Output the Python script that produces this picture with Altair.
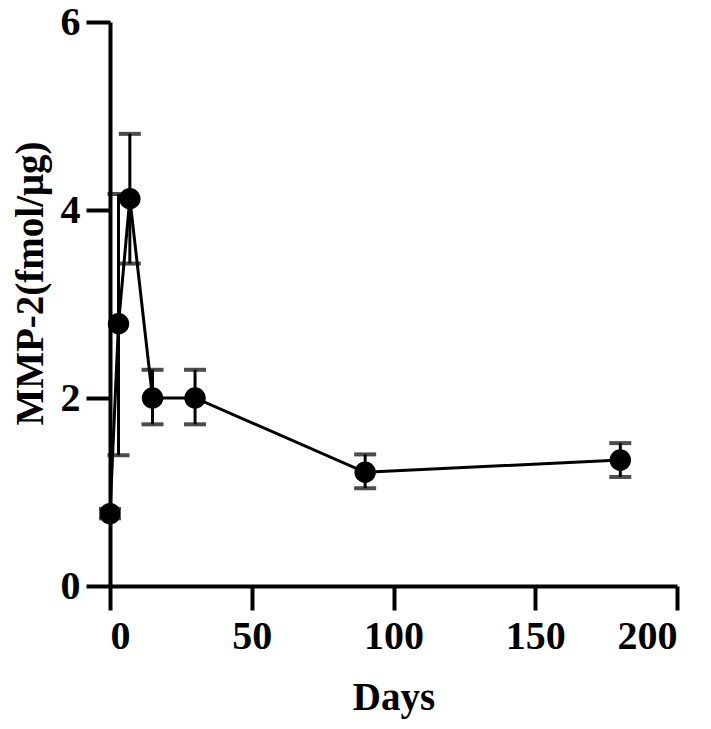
import altair as alt
import pandas as pd

days = [0, 3, 7, 15, 30, 90, 180]
mean = [0.77, 2.79, 4.12, 2.0, 2.0, 1.21, 1.34]
lower = [0.72, 1.39, 3.43, 1.72, 1.72, 1.04, 1.16]
upper = [0.82, 4.17, 4.81, 2.30, 2.30, 1.40, 1.52]

x_ticks = [0, 50, 100, 150, 200]
y_ticks = [0, 2, 4, 6]

df = pd.DataFrame({"days": days, "mean": mean, "lower": lower, "upper": upper})

FONT = "Liberation Serif"

xs = alt.Scale(domain=[0, 200], nice=False)
ys = alt.Scale(domain=[0, 6], nice=False)

xaxis = alt.Axis(values=x_ticks, title="Days", titleBaseline="alphabetic", titleY=123,
                 labelPadding=6, format="d")
yaxis = alt.Axis(values=y_ticks, title="MMP-2(fmol/μg)", titleX=-60, titleY=261,
                 labelPadding=6, format="d")

base = alt.Chart(df)

stems = base.mark_rule(color="black", strokeWidth=3).encode(
    x=alt.X("days:Q", scale=xs, axis=xaxis),
    y=alt.Y("lower:Q", scale=ys, axis=yaxis),
    y2="upper:Q",
)
caps_hi = base.mark_tick(color="black", orient="horizontal", size=22, thickness=4).encode(
    x=alt.X("days:Q", scale=xs), y=alt.Y("upper:Q", scale=ys)
)
caps_lo = base.mark_tick(color="black", orient="horizontal", size=22, thickness=4).encode(
    x=alt.X("days:Q", scale=xs), y=alt.Y("lower:Q", scale=ys)
)
line = base.mark_line(color="black", strokeWidth=3).encode(
    x=alt.X("days:Q", scale=xs), y=alt.Y("mean:Q", scale=ys)
)
pts = base.mark_point(filled=True, color="black", opacity=1, size=460, shape="circle").encode(
    x=alt.X("days:Q", scale=xs), y=alt.Y("mean:Q", scale=ys)
)

chart = (stems + caps_hi + caps_lo + line + pts).properties(
    width=567, height=564,
    autosize=alt.AutoSizeParams(type="none"),
    padding={"left": 102, "top": 14, "right": 20, "bottom": 135},
).configure_view(stroke=None).configure_axis(
    grid=False,
    domainColor="black", domainWidth=4,
    tickColor="black", tickWidth=4, tickSize=24,
    labelFont=FONT, labelFontWeight="bold", labelFontSize=40, labelColor="black",
    titleFont=FONT, titleFontWeight="bold", titleFontSize=39, titleColor="black",
)

chart.save("out.html", embed_options={"renderer": "svg", "actions": False})
